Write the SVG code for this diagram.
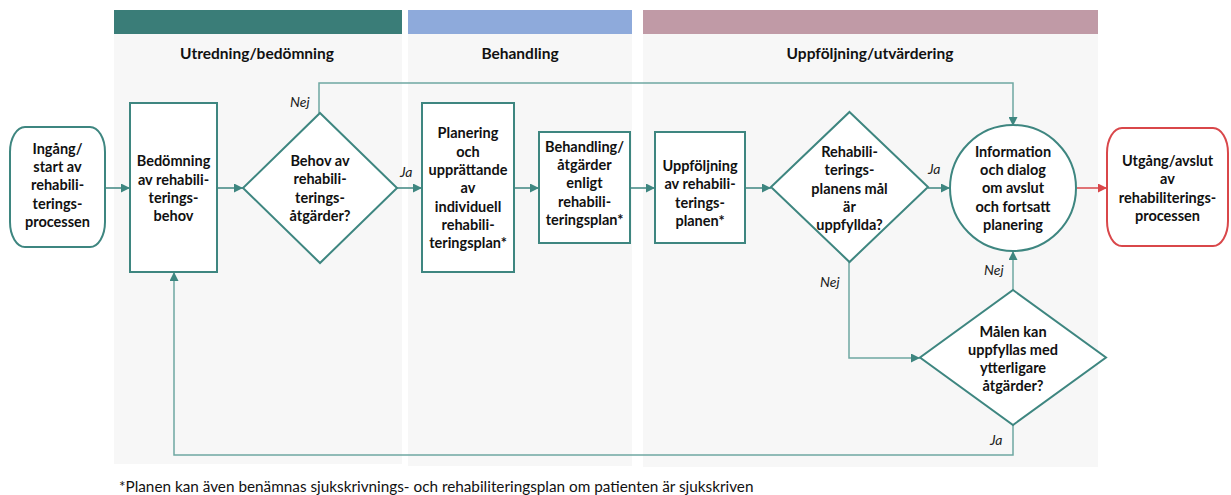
<svg xmlns="http://www.w3.org/2000/svg" width="1231" height="495" viewBox="0 0 1231 495">
<defs>
<style>
.bg{fill:#f7f7f7}
.node{fill:#ffffff;stroke:#3e8680;stroke-width:2}
.exit{fill:#ffffff;stroke:#d9474a;stroke-width:2}
.t{font-family:Lato,"Liberation Sans",sans-serif;font-weight:bold;font-size:14.5px;fill:#111;text-anchor:middle}
.h{font-family:Lato,"Liberation Sans",sans-serif;font-weight:bold;font-size:15.5px;fill:#111;text-anchor:middle}
.lbl{font-family:Lato,"Liberation Sans",sans-serif;font-style:italic;font-size:14px;fill:#222}
.foot{font-family:Lato,"Liberation Sans",sans-serif;font-size:15.3px;fill:#111}
.c{fill:none;stroke:#3e8680;stroke-width:1.5}
.cl{fill:none;stroke:#6fa8a2;stroke-width:1.5}
.cr{fill:none;stroke:#d9474a;stroke-width:1.5}
</style>
<marker id="a" viewBox="0 0 10 10" refX="10" refY="5" markerWidth="9" markerHeight="9" markerUnits="userSpaceOnUse" orient="auto"><path d="M0,0L10,5L0,10z" fill="#3e8680"/></marker>
<marker id="ar" viewBox="0 0 10 10" refX="10" refY="5" markerWidth="9" markerHeight="9" markerUnits="userSpaceOnUse" orient="auto"><path d="M0,0L10,5L0,10z" fill="#d9474a"/></marker>
</defs>
<g id="phases">
<rect class="bg" x="114" y="34" width="288" height="430"/>
<rect class="bg" x="408" y="34" width="224" height="432"/>
<rect class="bg" x="643" y="34" width="455" height="433"/>
<rect x="114" y="10" width="288" height="24" fill="#3a7d78"/>
<rect x="408" y="10" width="224" height="24" fill="#8eaadb"/>
<rect x="643" y="10" width="455" height="24" fill="#c09aa6"/>
<text class="h" x="257" y="59">Utredning/bedömning</text>
<text class="h" x="520" y="59">Behandling</text>
<text class="h" x="870" y="59">Uppföljning/utvärdering</text>
</g>
<g id="connectors">
<line class="c" x1="105" y1="188" x2="130" y2="188" marker-end="url(#a)"/>
<line class="c" x1="217" y1="188" x2="243" y2="188" marker-end="url(#a)"/>
<line class="c" x1="397" y1="188" x2="422" y2="188" marker-end="url(#a)"/>
<line class="c" x1="514" y1="188" x2="539" y2="188" marker-end="url(#a)"/>
<line class="c" x1="630" y1="188" x2="655" y2="188" marker-end="url(#a)"/>
<line class="c" x1="745" y1="188" x2="771" y2="188" marker-end="url(#a)"/>
<line class="c" x1="928" y1="188" x2="950" y2="188" marker-end="url(#a)"/>
<line class="cr" x1="1077" y1="188" x2="1107" y2="188" marker-end="url(#ar)"/>
<polyline class="cl" points="319,113 319,83 1013,83 1013,126" marker-end="url(#a)"/>
<polyline class="cl" points="849,262 849,358 920,358" marker-end="url(#a)"/>
<line class="cl" x1="1013" y1="290" x2="1013" y2="251" marker-end="url(#a)"/>
<polyline class="cl" points="1013,425 1013,455 174,455 174,272" marker-end="url(#a)"/>
<text class="lbl" x="290" y="107">Nej</text>
<text class="lbl" x="400" y="177">Ja</text>
<text class="lbl" x="928" y="174">Ja</text>
<text class="lbl" x="820" y="287">Nej</text>
<text class="lbl" x="984" y="275">Nej</text>
<text class="lbl" x="990" y="445">Ja</text>
</g>
<g id="start">
<rect class="node" x="10" y="127" width="95" height="120" rx="15" ry="25"/>
<text class="t" x="57.5" y="154">Ingång/</text>
<text class="t" x="57.5" y="172">start av</text>
<text class="t" x="57.5" y="190">rehabili-</text>
<text class="t" x="57.5" y="209">terings-</text>
<text class="t" x="57.5" y="227">processen</text>
</g>
<g id="bedomning">
<rect class="node" x="130" y="103" width="87" height="169"/>
<text class="t" x="173.5" y="166">Bedömning</text>
<text class="t" x="173.5" y="185">av rehabili-</text>
<text class="t" x="173.5" y="203">terings-</text>
<text class="t" x="173.5" y="221">behov</text>
</g>
<g id="behov">
<polygon class="node" points="320,113 397,188 320,263 243,188"/>
<text class="t" x="320" y="166">Behov av</text>
<text class="t" x="320" y="184">rehabili-</text>
<text class="t" x="320" y="203">terings-</text>
<text class="t" x="320" y="221">åtgärder?</text>
</g>
<g id="planering">
<rect class="node" x="422" y="103" width="92" height="169"/>
<text class="t" x="468" y="138">Planering</text>
<text class="t" x="468" y="157">och</text>
<text class="t" x="468" y="175">upprättande</text>
<text class="t" x="468" y="193">av</text>
<text class="t" x="468" y="212">individuell</text>
<text class="t" x="468" y="230">rehabili-</text>
<text class="t" x="468" y="248">teringsplan*</text>
</g>
<g id="behandling">
<rect class="node" x="539" y="132" width="91" height="111"/>
<text class="t" x="584.5" y="152">Behandling/</text>
<text class="t" x="584.5" y="170">åtgärder</text>
<text class="t" x="584.5" y="188">enligt</text>
<text class="t" x="584.5" y="207">rehabili-</text>
<text class="t" x="584.5" y="225">teringsplan*</text>
</g>
<g id="uppfoljning">
<rect class="node" x="655" y="132" width="90" height="111"/>
<text class="t" x="700" y="171">Uppföljning</text>
<text class="t" x="700" y="189">av rehabili-</text>
<text class="t" x="700" y="208">terings-</text>
<text class="t" x="700" y="226">planen*</text>
</g>
<g id="malen-uppfyllda">
<polygon class="node" points="849.5,112 928,187 849.5,262 771,187"/>
<text class="t" x="849.5" y="157">Rehabili-</text>
<text class="t" x="849.5" y="175">terings-</text>
<text class="t" x="849.5" y="194">planens mål</text>
<text class="t" x="849.5" y="212">är</text>
<text class="t" x="849.5" y="230">uppfyllda?</text>
</g>
<g id="information">
<circle class="node" cx="1013" cy="188" r="63"/>
<text class="t" x="1013" y="157">Information</text>
<text class="t" x="1013" y="175">och dialog</text>
<text class="t" x="1013" y="193">om avslut</text>
<text class="t" x="1013" y="212">och fortsatt</text>
<text class="t" x="1013" y="230">planering</text>
</g>
<g id="utgang">
<rect class="exit" x="1107" y="128" width="121" height="118" rx="15" ry="25"/>
<text class="t" x="1167.5" y="166">Utgång/avslut</text>
<text class="t" x="1167.5" y="184">av</text>
<text class="t" x="1167.5" y="203">rehabiliterings-</text>
<text class="t" x="1167.5" y="221">processen</text>
</g>
<g id="ytterligare">
<polygon class="node" points="1013,290 1106,357.5 1013,425 920,357.5"/>
<text class="t" x="1013" y="337">Målen kan</text>
<text class="t" x="1013" y="355">uppfyllas med</text>
<text class="t" x="1013" y="373">ytterligare</text>
<text class="t" x="1013" y="391">åtgärder?</text>
</g>
<text class="foot" x="119" y="492">*Planen kan även benämnas sjukskrivnings- och rehabiliteringsplan om patienten är sjukskriven</text>
</svg>
